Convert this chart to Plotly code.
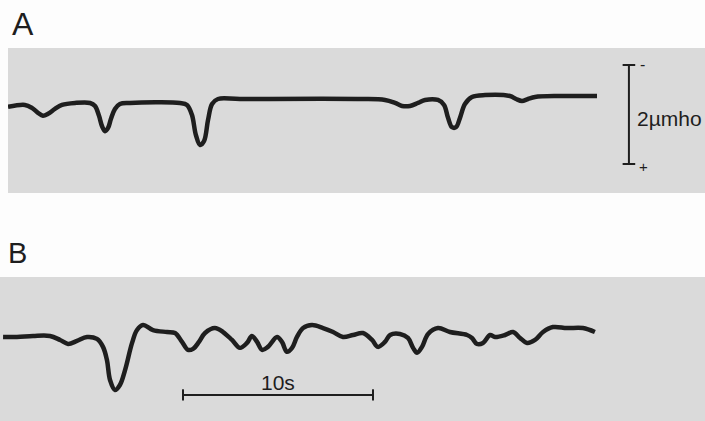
import plotly.graph_objects as go

# ---- data (time in s, conductance change in µmho; positive = increase, drawn downward) ----
t_a = [0, 0.89, 1.26, 1.58, 1.84, 2.11, 2.47, 2.84, 3.53, 4.32, 4.58, 4.79, 4.95, 5.11, 5.26,
       5.42, 5.63, 5.89, 6.42, 9.05, 9.42, 9.68, 9.89, 10.11, 10.32, 10.53, 10.74, 11.05,
       12.21, 18.53, 19.84, 20.37, 20.74, 21.16, 21.58, 21.95, 22.63, 22.95, 23.16, 23.37,
       23.58, 23.79, 24.05, 24.42, 25.11, 26.42, 26.74, 27.05, 27.37, 27.74, 29.05, 31.0]
g_a = [0.16, 0.12, 0.18, 0.28, 0.34, 0.30, 0.20, 0.12, 0.08, 0.08, 0.14, 0.34, 0.55, 0.65, 0.59,
       0.40, 0.20, 0.10, 0.08, 0.08, 0.12, 0.32, 0.73, 0.93, 0.85, 0.42, 0.10, 0,
       0, 0, 0.02, 0.08, 0.14, 0.14, 0.08, 0.02, 0.02, 0.12, 0.38, 0.57,
       0.57, 0.38, 0.10, -0.04, -0.08, -0.06, 0, 0.04, 0, -0.04, -0.06, -0.06]

t_b = [-0.26, 0.47, 1.32, 2.21, 2.74, 3.16, 3.63, 4.16, 4.68, 5.0, 5.21, 5.37, 5.63, 5.89,
       6.16, 6.53, 6.79, 7.11, 7.63, 8.37, 8.79, 9.16, 9.47, 9.74, 10.05, 10.37, 10.89, 11.32,
       11.79, 12.21, 12.58, 12.84, 13.11, 13.37, 13.68, 14.16, 14.42, 14.68, 14.95, 15.21,
       15.53, 16.0, 16.58, 17.11, 17.63, 18.16, 18.68, 19.16, 19.47, 19.84, 20.11, 20.63,
       21.05, 21.32, 21.53, 21.79, 22.11, 22.63, 23.26, 24.16, 24.42, 24.68, 25.0, 25.37,
       25.63, 26.16, 26.58, 26.95, 27.32, 27.74, 28.16, 28.68, 29.42, 30.26, 30.89]
g_b = [0.04, 0.04, 0.02, 0.02, 0.10, 0.18, 0.12, 0.04, 0.08, 0.24, 0.51, 0.91, 1.11, 1.01,
       0.71, 0.16, -0.10, -0.20, -0.10, -0.06, -0.04, 0.14, 0.30, 0.28, 0.14, -0.04, -0.14, -0.06,
       0.10, 0.26, 0.16, 0.02, 0.14, 0.30, 0.24, 0.04, 0.14, 0.34, 0.26, 0.04,
       -0.14, -0.20, -0.14, -0.06, 0.04, 0, -0.04, 0.10, 0.24, 0.14, 0, -0.02,
       0.06, 0.26, 0.36, 0.24, -0.02, -0.14, -0.06, 0, 0.06, 0.18, 0.16, 0,
       0.04, 0, -0.06, 0.06, 0.16, 0.10, -0.06, -0.16, -0.14, -0.14, -0.06]

scale_g = 2.0      # µmho calibration bar
scale_t = 10.0     # s time bar
panel_labels = ["A", "B"]
scale_g_label = "2µmho"
scale_t_label = "10s"

# ---- styling ----
W, H = 705, 421
INK = "#1e1e1e"
BAND = "#dadada"
FONT = "Liberation Sans, Arial, sans-serif"
PX_PER_S = 19.0
PX_PER_G = 49.5

def py(px):
    return 1 - px / H

fig = go.Figure()

line_style = dict(color=INK, width=4.5, shape="spline", smoothing=1.0)
fig.add_trace(go.Scatter(x=t_a, y=g_a, mode="lines", line=line_style,
                         xaxis="x", yaxis="y", hoverinfo="skip"))
fig.add_trace(go.Scatter(x=t_b, y=g_b, mode="lines", line=line_style,
                         xaxis="x2", yaxis="y2", hoverinfo="skip"))

# calibration bar (panel A)
bar_t = 32.68
bar_top = -0.687
fig.add_trace(go.Scatter(x=[bar_t, bar_t], y=[bar_top, bar_top + scale_g], mode="lines+markers",
                         line=dict(color=INK, width=2),
                         marker=dict(symbol="line-ew-open", size=9, line=dict(color=INK, width=2)),
                         xaxis="x", yaxis="y", hoverinfo="skip"))
# time bar (panel B)
tb_start = 9.21
tb_y = 1.21
fig.add_trace(go.Scatter(x=[tb_start, tb_start + scale_t], y=[tb_y, tb_y], mode="lines+markers",
                         line=dict(color=INK, width=2),
                         marker=dict(symbol="line-ns-open", size=8, line=dict(color=INK, width=2)),
                         xaxis="x2", yaxis="y2", hoverinfo="skip"))

ax_common = dict(showgrid=False, zeroline=False, showticklabels=False, ticks="",
                 showline=False, fixedrange=True)
fig.update_layout(
    width=W, height=H, autosize=False,
    margin=dict(l=0, r=0, t=0, b=0),
    paper_bgcolor="#fdfdfd", plot_bgcolor=BAND,
    showlegend=False,
    xaxis=dict(domain=[8 / W, 1], range=[0, (W - 8) / PX_PER_S], anchor="y", **ax_common),
    yaxis=dict(domain=[py(193), py(48)], range=[(193 - 99) / PX_PER_G, (48 - 99) / PX_PER_G],
               anchor="x", **ax_common),
    xaxis2=dict(domain=[0, 1], range=[-8 / PX_PER_S, (W - 8) / PX_PER_S], anchor="y2", **ax_common),
    yaxis2=dict(domain=[0, py(277)], range=[(421 - 335) / PX_PER_G, (277 - 335) / PX_PER_G],
                anchor="x2", **ax_common),
)

ann = []
ann.append(dict(text=panel_labels[0], xref="paper", yref="paper", x=10 / W, y=py(24),
                xanchor="left", yanchor="middle", showarrow=False,
                font=dict(family=FONT, size=32, color=INK)))
ann.append(dict(text=panel_labels[1], xref="paper", yref="paper", x=6 / W, y=py(253),
                xanchor="left", yanchor="middle", showarrow=False,
                font=dict(family=FONT, size=29, color=INK)))
ann.append(dict(text=scale_g_label, xref="paper", yref="paper", x=635 / W, y=py(118),
                xanchor="left", yanchor="middle", showarrow=False,
                font=dict(family=FONT, size=21, color=INK)))
ann.append(dict(text="-", xref="paper", yref="paper", x=642 / W, y=py(64),
                xanchor="center", yanchor="middle", showarrow=False,
                font=dict(family=FONT, size=16, color=INK)))
ann.append(dict(text="+", xref="paper", yref="paper", x=643 / W, y=py(166),
                xanchor="center", yanchor="middle", showarrow=False,
                font=dict(family=FONT, size=15, color=INK)))
ann.append(dict(text=scale_t_label, xref="paper", yref="paper", x=278 / W, y=py(382),
                xanchor="center", yanchor="middle", showarrow=False,
                font=dict(family=FONT, size=21, color=INK)))
fig.update_layout(annotations=ann)

fig.write_html("out.html", config=dict(displayModeBar=False, staticPlot=True),
               post_script="document.body.style.margin='0';document.body.style.padding='0';")
